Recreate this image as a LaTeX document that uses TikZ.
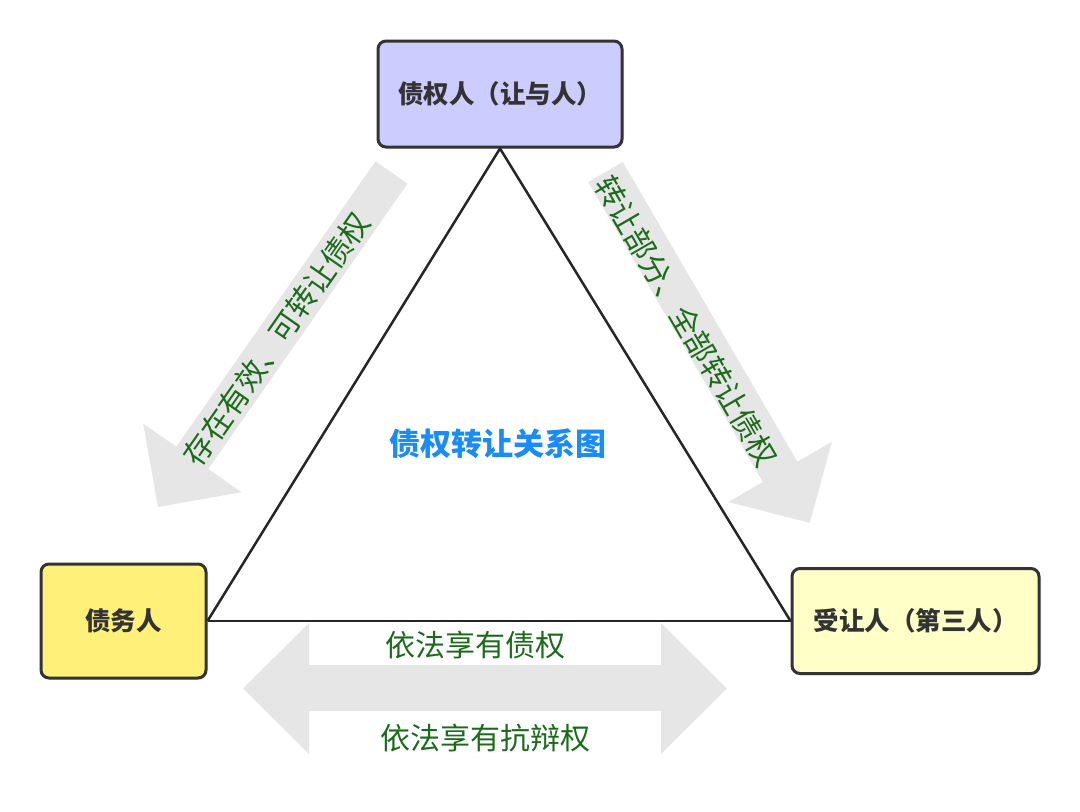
\documentclass[tikz,border=0pt]{standalone}
\usepackage{fontspec}
\setmainfont{Noto Sans CJK SC}
\usepackage{tikz}
\usetikzlibrary{positioning,calc,shadows}
\definecolor{boxline}{HTML}{333333}
\definecolor{creditorfill}{HTML}{CCCCFF}
\definecolor{debtorfill}{HTML}{FFF07A}
\definecolor{assigneefill}{HTML}{FFFFC8}
\definecolor{arrowgray}{HTML}{E6E6E6}
\definecolor{labelgreen}{HTML}{1B6B1B}
\definecolor{titleblue}{HTML}{1A8CF5}
\tikzstyle{party} = [draw=boxline, line width=3pt, rounded corners=8pt, text=boxline,
    font=\fontsize{25.5}{30}\selectfont\bfseries, drop shadow={opacity=0.12, shadow xshift=2pt, shadow yshift=-2pt}]
\tikzstyle{side} = [draw=black!85, line width=2.5pt]
\tikzstyle{blockarrow} = [fill=arrowgray]
\tikzstyle{flowtext} = [text=labelgreen, font=\fontsize{30}{36}\selectfont, inner sep=0pt]

\begin{document}
\begin{tikzpicture}[x=1pt, y=1pt]
    \useasboundingbox (0,0) rectangle (1080,-812);
    % Block arrows
    \begin{scope}[shift={(391.5,-172.5)}, rotate=235.08]
        \fill[blockarrow] (0,-19.5) -- (348,-19.5) -- (348,-60) -- (408,0) -- (348,60) -- (348,19.5) -- (0,19.5) -- cycle;
    \end{scope}
    \begin{scope}[shift={(605.5,-172)}, rotate=-59.78]
        \fill[blockarrow] (0,-20) -- (347,-20) -- (347,-60) -- (406,0) -- (347,60) -- (347,20) -- (0,20) -- cycle;
    \end{scope}
    \fill[blockarrow] (243,-688.5) -- (309,-623) -- (309,-665) -- (661,-665) -- (661,-623) -- (727,-688.5)
        -- (661,-754) -- (661,-711) -- (309,-711) -- (309,-754) -- cycle;
    % Nodes
    \node[party, fill=creditorfill, minimum width=244pt, minimum height=106pt] (creditor) at (500,-94) {债权人（让与人）};
    \node[party, fill=debtorfill, minimum width=165pt, minimum height=114pt] (debtor) at (123.5,-621) {债务人};
    \node[party, fill=assigneefill, minimum width=247pt, minimum height=105pt] (assignee) at (915.5,-621) {受让人（第三人）};
    % Triangle
    \draw[side] (creditor.south) -- (debtor.east);
    \draw[side] (debtor.east) -- (assignee.west);
    \draw[side] (assignee.west) -- (creditor.south);
    % Labels
    \node[text=titleblue, font=\fontsize{31}{36}\selectfont\bfseries] (title) at (498,-444) {债权转让关系图};
    \node[flowtext, rotate=55.1] (validclaim) at (276.5,-339) {存在有效、可转让债权};
    \node[flowtext, rotate=-59.8] (transferclaim) at (686.3,-321.2) {转让部分、全部转让债权};
    \node[flowtext] (rightclaim) at (475.5,-645) {依法享有债权};
    \node[flowtext] (rightdefense) at (485,-738) {依法享有抗辩权};
\end{tikzpicture}
\end{document}
